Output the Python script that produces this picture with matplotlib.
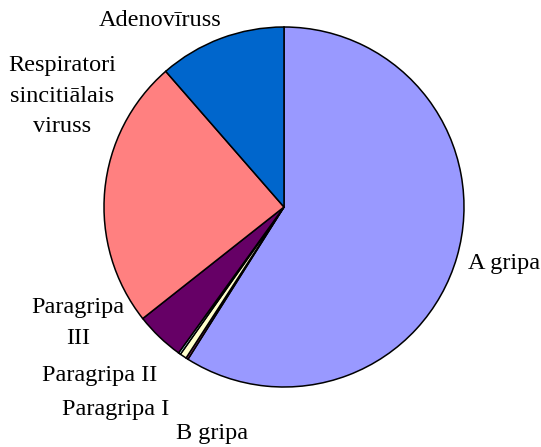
import matplotlib.pyplot as plt

labels = ['A gripa', 'B gripa', 'Paragripa I', 'Paragripa II', 'Paragripa III',
          'Respiratori sincitiālais viruss', 'Adenovīruss']
values = [58.9, 0.2, 0.6, 0.2, 4.4, 24.2, 11.4]
colors = ['#9999FF', '#993366', '#FFFFCC', '#CCFFFF', '#660066', '#FF8080', '#0066CC']

fig = plt.figure(figsize=(5.41, 4.47), dpi=100)
# pie centre at (284, 207) px, radius 180 px
ax = fig.add_axes([104 / 541, 60 / 447, 360 / 541, 360 / 447])
ax.pie(values, colors=colors, startangle=90, counterclock=False, radius=1,
       wedgeprops=dict(edgecolor='black', linewidth=1.1))
ax.set_xlim(-1, 1)
ax.set_ylim(-1, 1)
ax.set_aspect('equal')
ax.axis('off')

# label positions in pixels of the original picture
label_text = ['A gripa', 'B gripa', 'Paragripa I', 'Paragripa II', 'Paragripa\nIII',
              'Respiratori\nsincitiālais\nviruss', 'Adenovīruss']
label_px = [(504, 264), (212, 433), (116, 409), (100, 376), (78, 323), (62, 96), (160, 20)]

for txt, (px, py) in zip(label_text, label_px):
    fig.text(px / 541, 1 - py / 447, txt, ha='center', va='center',
             fontsize=17.5, family='Liberation Serif', linespacing=1.6)

fig.savefig('out.png', dpi=100)
